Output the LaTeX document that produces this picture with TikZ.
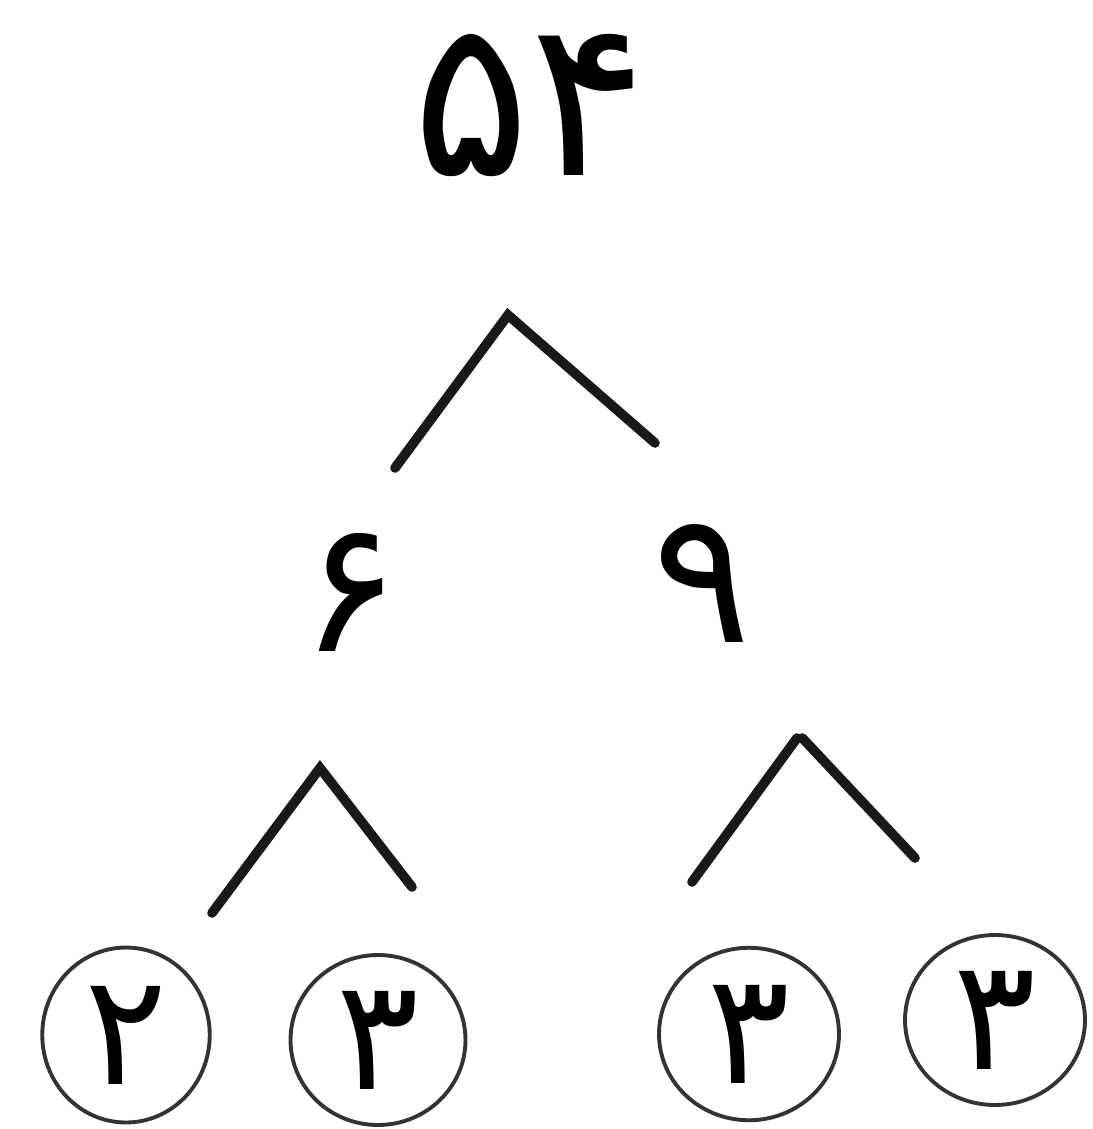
\documentclass[tikz,border=0pt]{standalone}
\usepackage{fontspec}
\newfontfamily\arabicfont[Script=Arabic]{DejaVu Sans}
\usetikzlibrary{shapes.geometric}
\begin{document}
\begin{tikzpicture}[x={(0.02cm,0)},y={(0,-0.02cm)},
  branch/.style={line width=5.5pt,line cap=round,black!90},
  leaf/.style={draw=black!80,line width=2.2pt,ellipse,inner sep=0pt,
    font=\arabicfont\fontsize{88}{88}\selectfont},
  mid/.style={font=\arabicfont\fontsize{105}{105}\selectfont},
  rootlbl/.style={font=\arabicfont\fontsize{125}{125}\selectfont}]
\useasboundingbox (0,0) rectangle (1092,1129);
\fill[white] (0,0) rectangle (1092,1129);
% numbers
\node[rootlbl] (root) at (530,105) {۵۴};
\node[mid] (six) at (350,592) {۶};
\node[mid] (nine) at (702,583) {۹};
\node[leaf,minimum width=3.35cm,minimum height=3.5cm] (l1) at (126,1035) {۲};
\node[leaf,minimum width=3.5cm,minimum height=3.4cm] (l2) at (378,1040) {۳};
\node[leaf,minimum width=3.6cm,minimum height=3.45cm] (l3) at (749,1034) {۳};
\node[leaf,minimum width=3.6cm,minimum height=3.4cm] (l4) at (995,1020) {۳};
% branch coordinates
\coordinate (a0) at (508,315);
\coordinate (a1) at (395,468);
\coordinate (a2) at (655,443);
\coordinate (b0) at (320,768);
\coordinate (b1) at (212,913);
\coordinate (b2) at (412,887);
\coordinate (c0) at (797,738);
\coordinate (c1) at (692,882);
\coordinate (c2) at (915,858);
\draw[branch] (a1) -- (a0) -- (a2);
\draw[branch] (b1) -- (b0) -- (b2);
\draw[branch] (c1) -- (c0);
\draw[branch] ([xshift=3pt]c0) -- (c2);
\end{tikzpicture}
\end{document}
